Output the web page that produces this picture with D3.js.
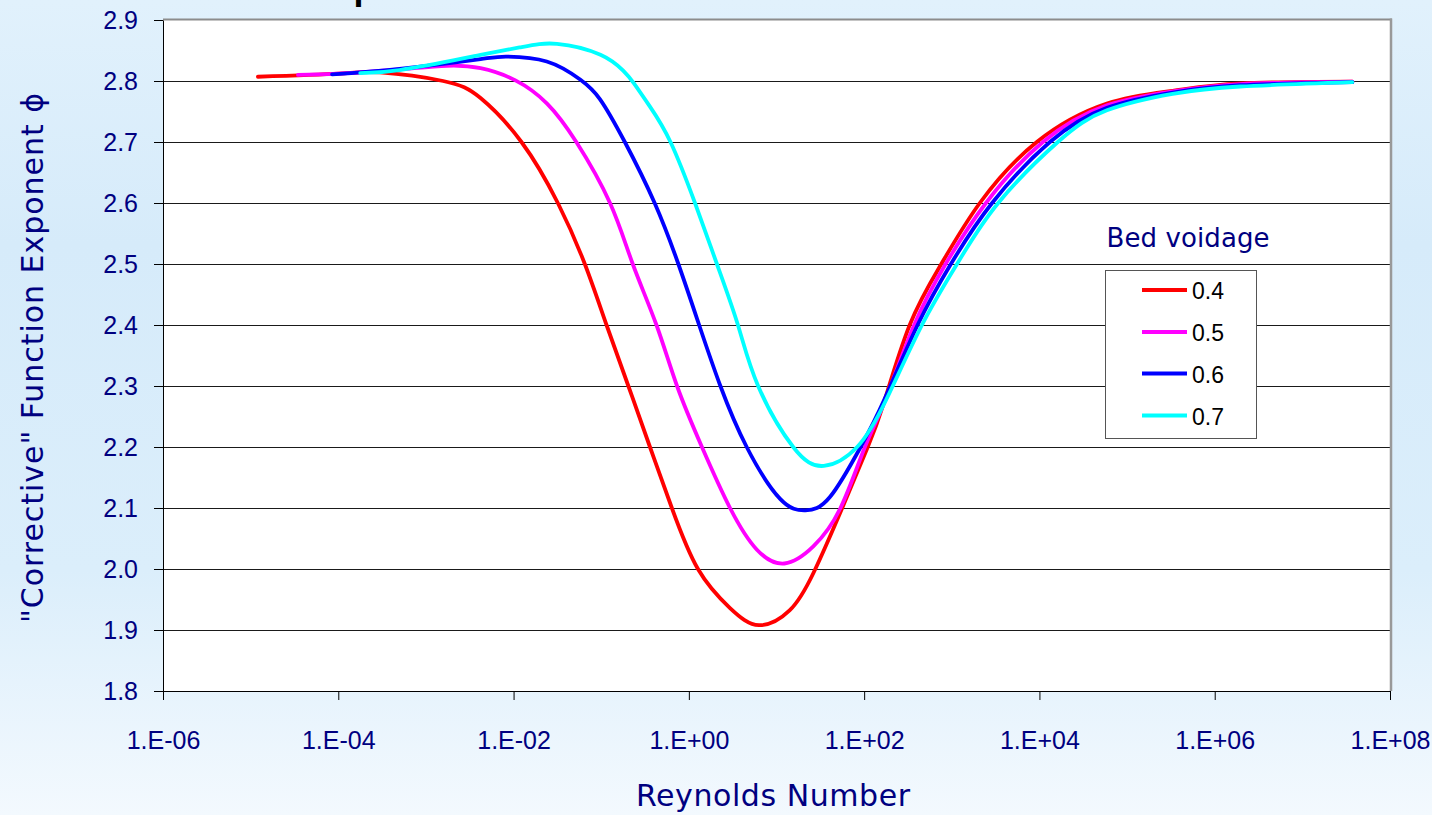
<!DOCTYPE html>
<html><head><meta charset="utf-8">
<script src="https://cdn.jsdelivr.net/npm/d3@7"></script>
<style>html,body{margin:0;padding:0;overflow:hidden;background:#fff;}</style>
</head><body>
<svg id="chart" width="1432" height="815"></svg>
<script>
// ---- data ----
const xTickValues = [1e-6, 1e-4, 1e-2, 1e0, 1e2, 1e4, 1e6, 1e8];
const yTickValues = [1.8, 1.9, 2.0, 2.1, 2.2, 2.3, 2.4, 2.5, 2.6, 2.7, 2.8, 2.9];
const voidages = ["0.4", "0.5", "0.6", "0.7"];

const re04  = [1.21e-5, 1e-4, 3.0e-4, 1.57e-3, 4.2e-3, 1.23e-2, 3.2e-2, 6.5e-2, 0.115, 0.204, 0.36, 0.64, 1.27, 2.95, 6.31, 14.1, 26.3, 56.2, 110, 166, 331, 759, 2089, 9333, 58884, 331131, 1.95e6, 3.72e7];
const phi04 = [2.807, 2.812, 2.814, 2.800, 2.772, 2.70, 2.60, 2.50, 2.40, 2.30, 2.20, 2.10, 2.00, 1.936, 1.908, 1.932, 1.993, 2.10, 2.20, 2.270, 2.40, 2.50, 2.60, 2.70, 2.763, 2.784, 2.796, 2.799];

const re05  = [3.47e-5, 1e-4, 5.0e-4, 1.74e-3, 4.2e-3, 1.05e-2, 2.41e-2, 5.2e-2, 0.126, 0.229, 0.427, 0.733, 1.41, 2.95, 5.94, 12.3, 26.3, 53.7, 102, 174, 372, 851, 2455, 10965, 58884, 331131, 1.95e6, 3.72e7];
const phi05 = [2.810, 2.812, 2.819, 2.825, 2.821, 2.801, 2.763, 2.70, 2.60, 2.50, 2.40, 2.30, 2.20, 2.10, 2.032, 2.009, 2.037, 2.10, 2.20, 2.277, 2.40, 2.50, 2.60, 2.70, 2.760, 2.783, 2.795, 2.799];

const re06  = [8.5e-5, 5.0e-4, 4.2e-3, 8.4e-3, 2.39e-2, 5.8e-2, 9.7e-2, 0.186, 0.407, 0.759, 1.31, 2.29, 4.57, 11.0, 21.4, 40.7, 91.2, 169, 407, 977, 2884, 13183, 58884, 331131, 1.95e6, 3.72e7];
const phi06 = [2.811, 2.820, 2.836, 2.840, 2.832, 2.802, 2.770, 2.70, 2.60, 2.50, 2.40, 2.30, 2.20, 2.115, 2.096, 2.118, 2.20, 2.277, 2.40, 2.50, 2.60, 2.70, 2.756, 2.781, 2.793, 2.798];

const re07  = [1.78e-4, 5.0e-4, 2.65e-3, 4.2e-3, 1.17e-2, 3.13e-2, 9.8e-2, 0.178, 0.234, 0.36, 0.617, 1.175, 2.09, 3.63, 6.17, 15.5, 34.7, 83.2, 178, 457, 1148, 3388, 16218, 58884, 331131, 1.95e6, 3.72e7];
const phi07 = [2.813, 2.818, 2.837, 2.843, 2.855, 2.861, 2.843, 2.817, 2.797, 2.758, 2.70, 2.60, 2.50, 2.40, 2.30, 2.20, 2.169, 2.20, 2.277, 2.40, 2.50, 2.60, 2.70, 2.752, 2.779, 2.791, 2.798];

const seriesRe  = [re04, re05, re06, re07];
const seriesPhi = [phi04, phi05, phi06, phi07];
const seriesColors = ["#ff0000", "#ff00ff", "#0000ff", "#00ffff"];

// ---- layout ----
const W = 1432, H = 815;
const plot = {left: 163, right: 1390, top: 20, bottom: 691};
const navy = "#000080";
const comic = "'Comic Sans MS','DejaVu Sans',sans-serif";
const arial = "'Liberation Sans',Arial,sans-serif";

const svg = d3.select("#chart");
const defs = svg.append("defs");
const grad = defs.append("linearGradient").attr("id", "bg").attr("x1", 0).attr("y1", 0).attr("x2", 0).attr("y2", 1);
[[0, "#e1f1fc"], [0.3, "#d6ebfa"], [0.7, "#dbeefb"], [1, "#f3f9fe"]].forEach(([o, c]) =>
  grad.append("stop").attr("offset", o).attr("stop-color", c));
svg.append("rect").attr("width", W).attr("height", H).attr("fill", "url(#bg)");

// cropped title fragment at the very top (as in the reference)
svg.append("text").attr("x", 353.5).attr("y", -1.5).attr("font-family", arial)
  .attr("font-weight", "bold").attr("font-size", 36).attr("fill", "#000").text("p");

const x = d3.scaleLog().domain([1e-6, 1e8]).range([plot.left, plot.right]);
const y = d3.scaleLinear().domain([1.8, 2.9]).range([plot.bottom, plot.top]);

// plot area
svg.append("rect").attr("x", plot.left).attr("y", plot.top)
  .attr("width", plot.right - plot.left).attr("height", plot.bottom - plot.top).attr("fill", "#fff");

// gridlines
svg.append("g").selectAll("line").data(yTickValues.filter(v => v > 1.85 && v < 2.85)).join("line")
  .attr("x1", plot.left).attr("x2", plot.right)
  .attr("y1", d => Math.round(y(d)) + 0.5).attr("y2", d => Math.round(y(d)) + 0.5)
  .attr("stroke", "#1a1a1a").attr("stroke-width", 1);
// top and right border (grey)
svg.append("line").attr("x1", plot.left).attr("x2", plot.right + 2).attr("y1", y(2.9) - 0.5).attr("y2", y(2.9) - 0.5)
  .attr("stroke", "#8c8c8c").attr("stroke-width", 2);
svg.append("line").attr("x1", plot.right + 1).attr("x2", plot.right + 1).attr("y1", plot.top - 1.5).attr("y2", plot.bottom)
  .attr("stroke", "#999").attr("stroke-width", 2.5);

// axes
const fmtX = d => {
  const e = Math.round(Math.log10(d));
  return "1.E" + (e < 0 ? "-" : "+") + String(Math.abs(e)).padStart(2, "0");
};
const gx = svg.append("g").attr("transform", `translate(0,${plot.bottom})`)
  .call(d3.axisBottom(x).tickValues(xTickValues).tickFormat(fmtX).tickSize(9).tickSizeOuter(0).tickPadding(31));
const gy = svg.append("g").attr("transform", `translate(${plot.left},0)`)
  .call(d3.axisLeft(y).tickValues(yTickValues).tickFormat(d3.format(".1f")).tickSize(9).tickSizeOuter(0).tickPadding(16));
[gx, gy].forEach(g => {
  g.select(".domain").attr("stroke", "#000");
  g.selectAll(".tick line").attr("stroke", "#000");
  g.selectAll("text").attr("fill", navy).attr("font-family", arial).attr("font-size", 25);
});

// series
const line = d3.line().x(d => x(d[0])).y(d => y(d[1])).curve(d3.curveNatural);
svg.append("g").selectAll("path").data(seriesRe.map((r, i) => r.map((v, j) => [v, seriesPhi[i][j]]))).join("path")
  .attr("d", line).attr("fill", "none")
  .attr("stroke", (d, i) => seriesColors[i]).attr("stroke-width", 3.8)
  .attr("stroke-linejoin", "round").attr("stroke-linecap", "round");

// axis titles
svg.append("text").attr("transform", "translate(43,358) rotate(-90)").attr("text-anchor", "middle")
  .attr("font-family", comic).attr("font-size", 30).attr("fill", navy)
  .attr("textLength", 530).attr("lengthAdjust", "spacing")
  .text("\"Corrective\" Function Exponent \u03D5");
svg.append("text").attr("x", 773).attr("y", 806).attr("text-anchor", "middle")
  .attr("font-family", comic).attr("font-size", 30).attr("fill", navy)
  .attr("textLength", 274).attr("lengthAdjust", "spacing")
  .text("Reynolds Number");

// legend
svg.append("text").attr("x", 1188).attr("y", 247).attr("text-anchor", "middle")
  .attr("font-family", comic).attr("font-size", 26).attr("fill", navy)
  .attr("textLength", 163).attr("lengthAdjust", "spacing")
  .text("Bed voidage");
svg.append("rect").attr("x", 1105.5).attr("y", 270.5).attr("width", 151).attr("height", 168)
  .attr("fill", "#fff").attr("stroke", "#555").attr("stroke-width", 1);
const rows = [290, 332, 373.5, 415.5];
const lg = svg.append("g").selectAll("g").data(voidages).join("g")
  .attr("transform", (d, i) => `translate(0,${rows[i]})`);
lg.append("line").attr("x1", 1142).attr("x2", 1187).attr("y1", 0).attr("y2", 0)
  .attr("stroke", (d, i) => seriesColors[i]).attr("stroke-width", 4);
lg.append("text").attr("x", 1192).attr("y", 9).attr("font-family", arial).attr("font-size", 23)
  .attr("fill", "#000").text(d => d);
</script>
</body></html>
